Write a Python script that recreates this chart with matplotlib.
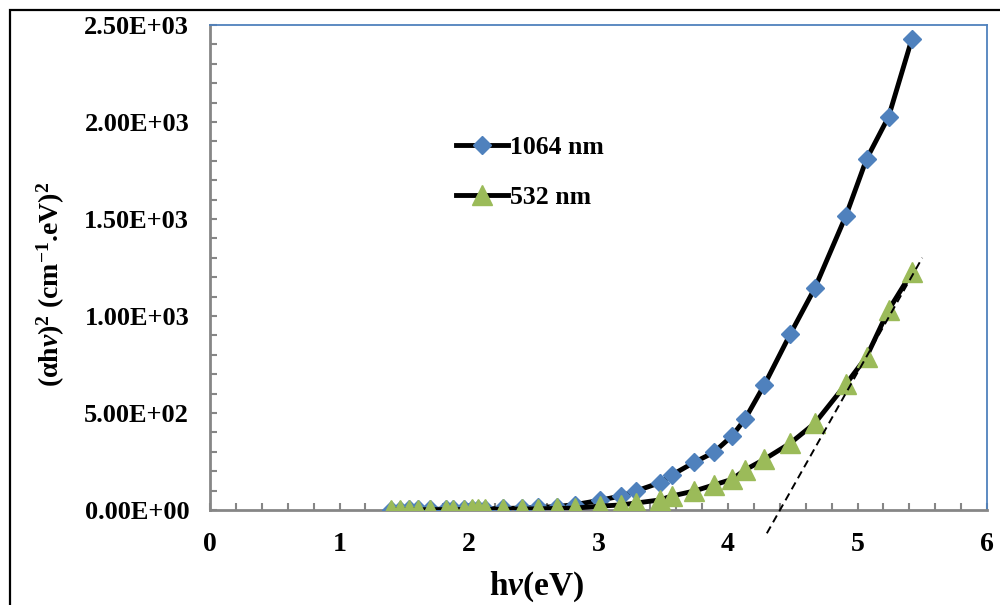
import matplotlib
matplotlib.use("Agg")
import matplotlib.pyplot as plt
from matplotlib.ticker import MultipleLocator, FuncFormatter
from matplotlib.patches import Rectangle

plt.rcParams['font.family'] = ['Liberation Serif', 'DejaVu Serif']
plt.rcParams['font.weight'] = 'bold'
plt.rcParams['mathtext.fontset'] = 'custom'
plt.rcParams['mathtext.rm'] = 'Liberation Serif:bold'
plt.rcParams['mathtext.bf'] = 'Liberation Serif:bold'
plt.rcParams['mathtext.it'] = 'Liberation Serif:italic:bold'

# photon energy (eV), shared by both series
hv = [1.40, 1.47, 1.54, 1.61, 1.70, 1.82, 1.88, 1.96, 2.02, 2.07, 2.12,
      2.26, 2.41, 2.53, 2.68, 2.82, 3.01, 3.17, 3.29, 3.475, 3.565, 3.74,
      3.89, 4.03, 4.13, 4.28, 4.48, 4.67, 4.91, 5.07, 5.24, 5.42]

# (alpha h nu)^2 for the 1064 nm sample
y_1064 = [2, 2, 3, 3, 4, 4, 5, 5, 5, 6, 6,
          8, 10, 13, 18, 28, 50, 72, 98, 141, 180, 246,
          297, 381, 467, 644, 906, 1143, 1516, 1809, 2027, 2428]

# (alpha h nu)^2 for the 532 nm sample
y_532 = [1, 1, 1, 1, 2, 2, 2, 2, 3, 3, 3,
         4, 5, 6, 8, 10, 20, 26, 36, 52, 72, 98,
         129, 158, 206, 261, 344, 447, 648, 790, 1031, 1225]

# tangent used for the band-gap extrapolation
fit_x = [4.30, 5.50]
fit_y = [-120, 1300]

fig = plt.figure(figsize=(10, 6.05), dpi=100)
ax = fig.add_axes([0.21, 0.157, 0.777, 0.8017])

ax.plot(hv, y_1064, color='black', lw=3.5, marker='D', ms=9.5,
        mfc='#4F81BD', mec='#4F81BD', label='1064 nm', zorder=3)
ax.plot(hv, y_532, color='black', lw=3.5, marker='^', ms=14,
        mfc='#9BBB59', mec='#9BBB59', label='532 nm', zorder=3)
ax.plot(fit_x, fit_y, color='black', lw=1.4, ls=(0, (4, 2.5)),
        clip_on=False, zorder=4)

ax.set_xlim(0, 6)
ax.set_ylim(0, 2500)
ax.xaxis.set_major_locator(MultipleLocator(1))
ax.xaxis.set_minor_locator(MultipleLocator(0.2))
ax.yaxis.set_major_locator(MultipleLocator(500))
ax.yaxis.set_minor_locator(MultipleLocator(100))
ax.yaxis.set_major_formatter(FuncFormatter(lambda v, p: f'{v:.2E}'))

ax.tick_params(which='both', direction='in', color='#868686', width=1.5, length=5)
ax.tick_params(axis='y', labelsize=19, pad=15)
ax.tick_params(axis='x', labelsize=20, pad=16)

for s in ['left', 'bottom']:
    ax.spines[s].set_color('#868686')
    ax.spines[s].set_linewidth(2)
for s in ['top', 'right']:
    ax.spines[s].set_color('#4F81BD')
    ax.spines[s].set_linewidth(1.3)

ax.set_xlabel(r'h$\mathit{\nu}$(eV)', fontsize=24, fontweight='bold')
ax.xaxis.set_label_coords(0.42, -0.122)
ax.set_ylabel(r'($\mathbf{\alpha}$h$\mathit{\nu}$)$^{\mathbf{2}}$ (cm$^{\mathbf{-1}}$.eV)$^{\mathbf{2}}$',
              fontsize=20, fontweight='bold')
ax.yaxis.set_label_coords(-0.184, 0.465)

leg = ax.legend(loc='upper left', bbox_to_anchor=(0.287, 0.818), frameon=False,
                prop={'size': 18.5, 'weight': 'bold'}, handlelength=2.0,
                handletextpad=0.1, labelspacing=1.05)

# outer chart frame
fig.patches.append(Rectangle((0.01, -0.1), 1.2, 0.1 + 1 - 10 / 605,
                             transform=fig.transFigure, fill=False,
                             edgecolor='black', lw=1.6))

fig.savefig('out.png', dpi=100)
